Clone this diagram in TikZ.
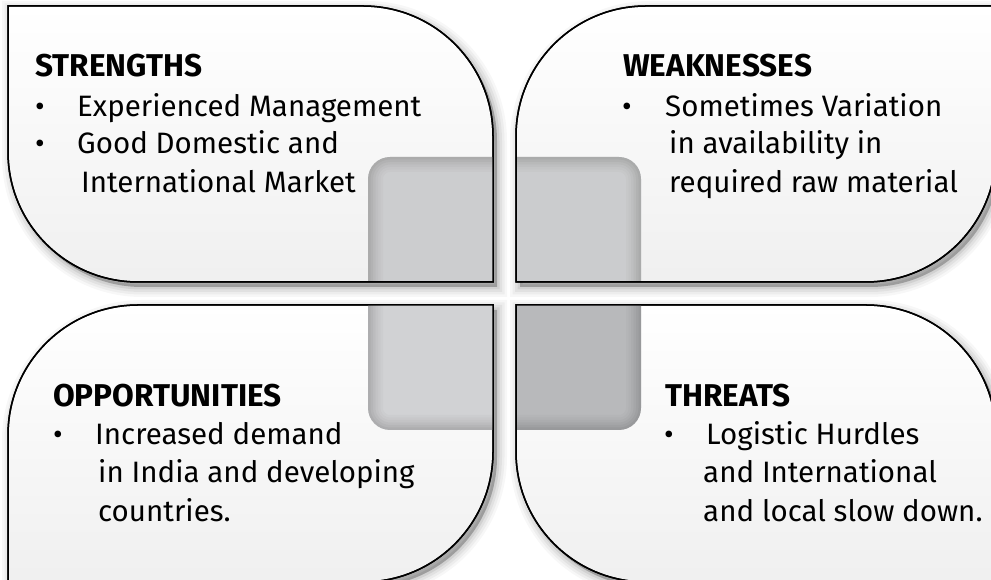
\documentclass[tikz,border=0pt]{standalone}
\usepackage{fontspec}
\setmainfont{Fira Sans}
\usetikzlibrary{positioning}
\definecolor{quadA}{RGB}{204,205,207}
\definecolor{quadB}{RGB}{203,204,206}
\definecolor{quadC}{RGB}{209,210,212}
\definecolor{quadD}{RGB}{184,185,187}

% the four leaves and the centre square (1pt = 1px)
\newcommand{\leafTL}{(8,574) -- (363,574) arc[start angle=90,end angle=0,radius=130] -- (493,298) -- (138,298) arc[start angle=270,end angle=180,radius=130] -- cycle}
\newcommand{\leafTR}{(996,574) -- (646,574) arc[start angle=90,end angle=180,radius=130] -- (516,298) -- (866,298) arc[start angle=270,end angle=360,radius=130] -- cycle}
\newcommand{\leafBL}{(8,-2) -- (8,145) arc[start angle=180,end angle=90,radius=130] -- (493,275) -- (493,128) arc[start angle=0,end angle=-90,radius=130] -- cycle}
\newcommand{\leafBR}{(516,275) -- (866,275) arc[start angle=90,end angle=0,radius=130] -- (996,-2) -- (646,-2) arc[start angle=270,end angle=180,radius=130] -- cycle}
\newcommand{\centreSq}{[rounded corners=22pt] (368,150) rectangle (641,423)}

\tikzset{
    leaf/.style={draw=black, line width=1.5pt, top color=white, bottom color=black!6},
    rim/.style={draw=black, line width=1.5pt},
    head/.style={anchor=base west, inner sep=0pt, font=\fontsize{31.5}{36}\selectfont\bfseries},
    item/.style={anchor=base west, inner sep=0pt, font=\fontsize{29.5}{36}\selectfont},
    dot/.style={anchor=base, inner sep=0pt, font=\fontsize{29.5}{36}\selectfont}
}

\begin{document}
\begin{tikzpicture}[x=1pt, y=1pt]
    \useasboundingbox (0,0) rectangle (991,580);
    \clip (0,0) rectangle (991,580);

    % Shadows
    \foreach \leaf in {\leafTL, \leafTR, \leafBL, \leafBR} {
        \fill[black, opacity=.25, shift={(4,-5)}] \leaf;
        \foreach \w/\o in {20/.03, 15/.04, 10/.05, 5/.07}
            \draw[black, line width=\w pt, opacity=\o, shift={(4,-5)}] \leaf;
    }

    % Leaves with their part of the centre square
    \foreach \leaf/\col in {\leafTL/quadA, \leafTR/quadB, \leafBL/quadC, \leafBR/quadD} {
        \path[leaf] \leaf;
        \begin{scope}
            \clip \leaf;
            \fill[\col] \centreSq;
            \clip \centreSq;
            \foreach \w/\o in {30/.02, 25/.02, 20/.025, 15/.03, 10/.035, 5/.04}
                \draw[black, line width=\w pt, opacity=\o] \centreSq;
        \end{scope}
        \draw[rim] \leaf;
    }

    % Strengths
    \node[head] (strHead) at (35,503) {STRENGTHS};
    \node[dot] (strDot1) at (40,463) {•};
    \node[dot] (strDot2) at (40,426) {•};
    \foreach \tx/\ty/\t [count=\i] in {77/463/Experienced Management, 77/426/Good Domestic and, 81/387/International Market}
        \node[item] (str\i) at (\tx,\ty) {\t};

    % Weaknesses
    \node[head] (weakHead) at (623,503) {WEAKNESSES};
    \node[dot] (weakDot) at (627,463) {•};
    \foreach \tx/\ty/\t [count=\i] in {665/463/Sometimes Variation, 669/426/in availability in, 669/387/required raw material}
        \node[item] (weak\i) at (\tx,\ty) {\t};

    % Opportunities
    \node[head] (oppHead) at (53,173) {OPPORTUNITIES};
    \node[dot] (oppDot) at (58,135) {•};
    \foreach \tx/\ty/\t [count=\i] in {95/135/Increased demand, 98/97/in India and developing, 98/58/countries.}
        \node[item] (opp\i) at (\tx,\ty) {\t};

    % Threats
    \node[head] (thrHead) at (665,173) {THREATS};
    \node[dot] (thrDot) at (669,135) {•};
    \foreach \tx/\ty/\t [count=\i] in {706/135/Logistic Hurdles, 703/97/and International, 703/58/and local slow down.}
        \node[item] (thr\i) at (\tx,\ty) {\t};

\end{tikzpicture}
\end{document}
